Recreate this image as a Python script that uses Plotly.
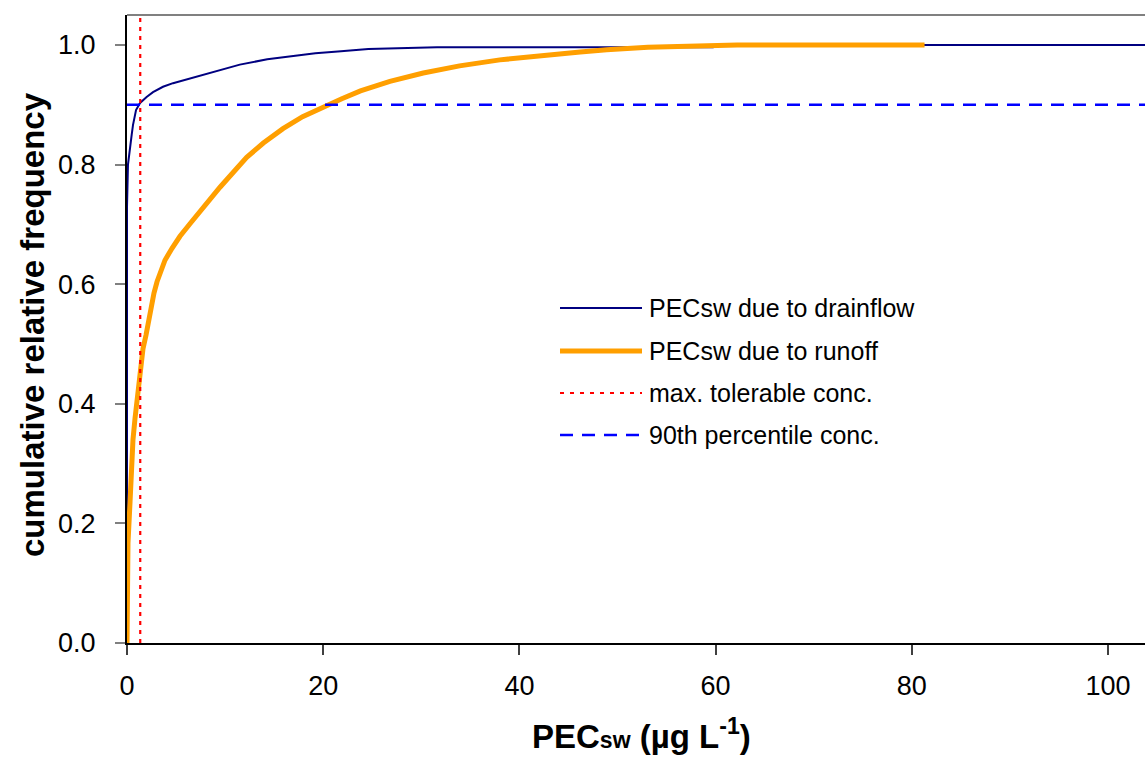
import plotly.graph_objects as go

# Cumulative distribution of PECsw (µg/L) for the drainflow scenario
drain_pec = [0.0, 0.0, 0.1, 0.31, 0.48, 0.61, 0.76, 0.92, 1.33, 2.0, 2.65, 3.67,
             4.69, 6.73, 9.17, 11.5, 14.3, 17.3, 19.2, 21.5, 24.6, 31.6, 59.7, 59.7, 110.0]
drain_freq = [0.0, 0.729, 0.80, 0.833, 0.85, 0.866, 0.88, 0.891, 0.903, 0.913, 0.921, 0.930,
              0.936, 0.945, 0.957, 0.967, 0.976, 0.982, 0.986, 0.989, 0.993, 0.996, 0.996, 1.0, 1.0]

# Cumulative distribution of PECsw (µg/L) for the runoff scenario
runoff_pec = [0.0, 0.1, 0.31, 0.41, 0.61, 0.82, 1.02, 1.22, 1.43, 1.63, 1.94,
              2.14, 2.45, 2.75, 3.06, 3.47, 3.87, 4.59, 5.40, 6.42, 7.44, 8.26, 9.48,
              11.0, 12.2, 13.9, 15.9, 17.9, 20.2, 21.9, 23.8, 26.8, 30.2, 33.9, 38.0,
              41.4, 46.2, 48.9, 53.1, 62.2, 81.3]
runoff_freq = [0.0, 0.167, 0.236, 0.293, 0.34, 0.376, 0.406, 0.431, 0.465, 0.492, 0.515,
               0.535, 0.563, 0.585, 0.604, 0.623, 0.640, 0.660, 0.680, 0.701, 0.722, 0.738, 0.762,
               0.790, 0.812, 0.836, 0.860, 0.880, 0.898, 0.910, 0.923, 0.939, 0.953, 0.965, 0.975,
               0.981, 0.988, 0.992, 0.996, 1.0, 1.0]

# Reference lines
max_tolerable_conc = [1.35, 1.35]
max_tolerable_freq = [0.0, 1.05]
p90_conc = [0.0, 110.0]
p90_freq = [0.9, 0.9]

x_ticks = [0, 20, 40, 60, 80, 100]
y_ticks = [0.0, 0.2, 0.4, 0.6, 0.8, 1.0]
y_tick_text = ["0.0", "0.2", "0.4", "0.6", "0.8", "1.0"]

legend_names = ["PECsw due to drainflow", "PECsw due to runoff",
                "max. tolerable conc.", "90th percentile conc."]

FONT = "Liberation Sans, Arial, sans-serif"
NAVY = "#000080"
ORANGE = "#FF9F00"
RED = "#FF0000"
BLUE = "#0000FF"

W, H = 1145, 758
ML, MR, MT, MB = 127, 0, 15, 115
PW, PH = W - ML - MR, H - MT - MB


def px(xp):
    return (xp - ML) / PW


def py(yp):
    return (H - MB - yp) / PH


fig = go.Figure()
fig.add_trace(go.Scatter(x=drain_pec, y=drain_freq, mode="lines",
                         line=dict(color=NAVY, width=2),
                         name=legend_names[0]))
fig.add_trace(go.Scatter(x=runoff_pec, y=runoff_freq, mode="lines",
                         line=dict(color=ORANGE, width=5),
                         name=legend_names[1]))
fig.add_trace(go.Scatter(x=max_tolerable_conc, y=max_tolerable_freq, mode="lines",
                         line=dict(color=RED, width=2.2, dash="4px,5px"),
                         name=legend_names[2]))
fig.add_trace(go.Scatter(x=p90_conc, y=p90_freq, mode="lines",
                         line=dict(color=BLUE, width=2.5, dash="13px,9px"),
                         name=legend_names[3]))

# Legend drawn inside the plot area
legend_rows = [(308, NAVY, 2, "solid"), (351, ORANGE, 5, "solid"),
               (393, RED, 2, "4px,6px"), (435, BLUE, 2.5, "13px,9px")]
shapes = []
annotations = []
for (yp, col, w, dash), label in zip(legend_rows, legend_names):
    shapes.append(dict(type="line", xref="paper", yref="paper",
                       x0=px(560), x1=px(642), y0=py(yp), y1=py(yp),
                       line=dict(color=col, width=w, dash=dash)))
    annotations.append(dict(xref="paper", yref="paper", x=px(647), y=py(yp),
                            xanchor="left", yanchor="middle", showarrow=False,
                            text=label, font=dict(family=FONT, size=25, color="#000000")))

# Grey frame line along the top of the plot area
shapes.append(dict(type="line", xref="paper", yref="paper", x0=0, x1=1, y0=1, y1=1,
                   line=dict(color="#808080", width=2)))

# Axis titles
annotations.append(dict(xref="paper", yref="paper", x=px(32), y=py(325),
                        xanchor="center", yanchor="middle", showarrow=False, textangle=-90,
                        text="<b>cumulative relative frequency</b>",
                        font=dict(family=FONT, size=33, color="#000000")))
annotations.append(dict(xref="paper", yref="paper", x=px(641), y=py(734),
                        xanchor="center", yanchor="middle", showarrow=False,
                        text="<b>PEC<span style=\"font-size:23px\">sw</span> (µg L<sup>-1</sup>)</b>",
                        font=dict(family=FONT, size=33, color="#000000")))

fig.update_layout(
    width=W, height=H,
    margin=dict(l=ML, r=MR, t=MT, b=MB, pad=0),
    paper_bgcolor="white", plot_bgcolor="white",
    showlegend=False,
    shapes=shapes, annotations=annotations,
    xaxis=dict(range=[0, (W - ML) / 9.81], tickvals=x_ticks, ticks="outside", ticklen=10,
               tickwidth=1.5, tickcolor="#404040", showgrid=False, zeroline=False,
               showline=True, linecolor="#000000", linewidth=2,
               tickfont=dict(family=FONT, size=27, color="#000000"), ticklabelstandoff=8),
    yaxis=dict(range=[0, 1.05], tickvals=y_ticks, ticktext=y_tick_text, ticks="outside",
               ticklen=10, tickwidth=1.5, tickcolor="#808080", showgrid=False, zeroline=False,
               showline=True, linecolor="#000000", linewidth=2,
               tickfont=dict(family=FONT, size=27, color="#000000"), ticklabelstandoff=14),
)

fig.write_html("out.html")
